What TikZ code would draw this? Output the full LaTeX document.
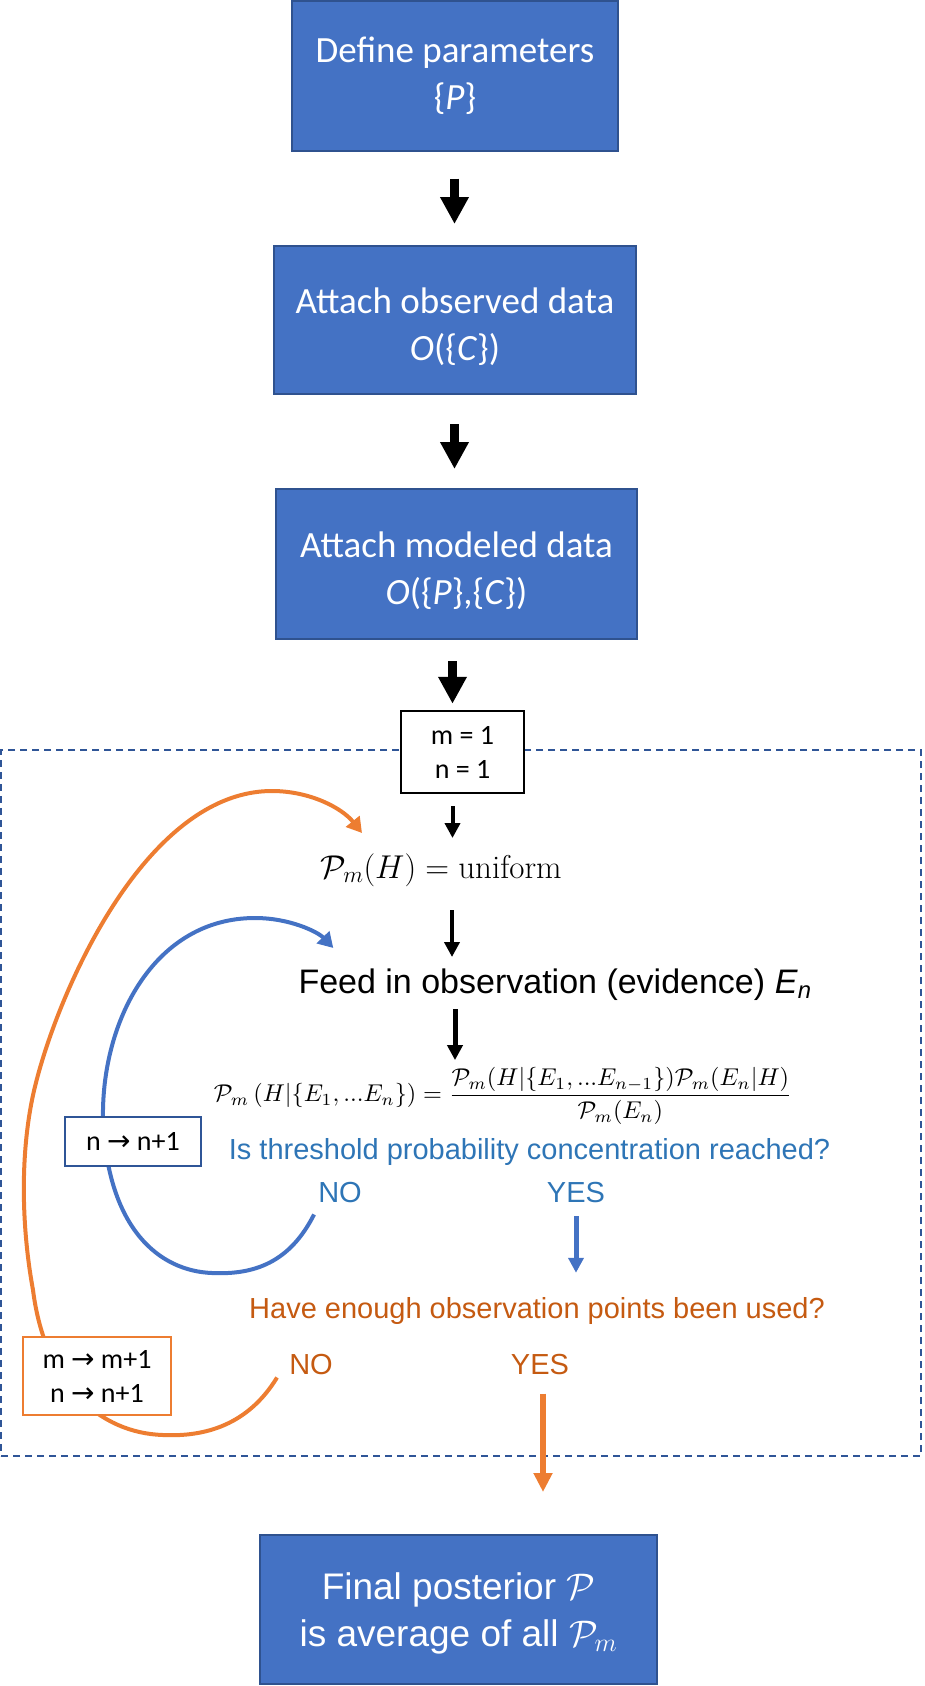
\RequirePackage{fix-cm}
\documentclass[tikz,border=0pt]{standalone}
\usepackage{fontspec}
\usepackage{graphicx}
\usetikzlibrary{arrows.meta}
\newfontfamily\calib{Carlito}
\newfontfamily\arial{Liberation Sans}
\newfontfamily\dejavu{DejaVu Sans}
\definecolor{boxblue}{HTML}{4472C4}
\definecolor{boxedge}{HTML}{2F528F}
\definecolor{frameblue}{HTML}{2F5597}
\definecolor{txtblue}{HTML}{2E75B6}
\definecolor{curveblue}{HTML}{4472C4}
\definecolor{orangeline}{HTML}{ED7D31}
\definecolor{txtorange}{HTML}{C55A11}
\tikzset{
  bluebox/.style={draw=boxedge, line width=2pt, fill=boxblue, text=white, align=center, inner sep=0pt},
  calibtext/.style={font=\calib\fontsize{37}{47}\selectfont},
  smallbox/.style={draw, line width=2pt, fill=white, align=center, inner sep=0pt, font=\calib\fontsize{28}{34}\selectfont},
  bigarrow/.style={line width=9pt, -{Triangle[width=27pt,length=27pt]}},
  smallarrow/.style={line width=4pt, -{Triangle[width=15pt,length=15pt]}},
  loopcurve/.style={line width=4pt, -{Triangle[width=17pt,length=15pt]}},
  plain/.style={inner sep=0pt, anchor=base},
  question/.style={plain, font=\arial\fontsize{29}{34}\selectfont},
}
\begin{document}
\begin{tikzpicture}[x=1pt,y=-1pt]
\useasboundingbox (0,0) rectangle (924,1686);
% dashed loop frame
\node[draw=frameblue, line width=2pt, dash pattern=on 7pt off 5pt, minimum width=920pt, minimum height=706pt, inner sep=0pt] (frame) at (461,1103) {};
% top boxes
\node[bluebox, calibtext, minimum width=326pt, minimum height=149pt] (b1) at (455,76) {Define parameters\\\{\textit{P}\}};
\node[bluebox, calibtext, minimum width=362pt, minimum height=148pt] (b2) at (455,320) {\rule{0pt}{40pt}Attach observed data\\\textit{O}(\{\textit{C}\})};
\node[bluebox, calibtext, minimum width=361pt, minimum height=150pt] (b3) at (456.5,564) {\rule{0pt}{39pt}Attach modeled data\\\textit{O}(\{\textit{P}\},\{\textit{C}\})};
\node[smallbox, draw=black, line width=2.5pt, minimum width=123pt, minimum height=82pt] (m1) at (462.5,752) {m = 1\\n = 1};
% loop contents
\node[plain, font=\fontsize{33}{40}\selectfont] (uni) at (441,878) {$\mathcal{P}_m(H)=\mathrm{uniform}$};
\node[plain, font=\arial\fontsize{34}{40}\selectfont] (feed) at (555,993) {Feed in observation (evidence) \textit{E}\textsubscript{\textit{n}}};
\node[inner sep=0pt] (bayes) at (503,1096) {\resizebox{578pt}{!}{$\displaystyle \mathcal{P}_m\left(H|\{E_1,...E_n\}\right)=\frac{\mathcal{P}_m(H|\{E_1,...E_{n-1}\})\mathcal{P}_m(E_n|H)}{\mathcal{P}_m(E_n)}$}};
\node[question, text=txtblue] (thr) at (529.5,1159) {Is threshold probability concentration reached?};
\node[question, text=txtblue] (noB) at (340,1202) {NO};
\node[question, text=txtblue] (yesB) at (576,1202) {YES};
\node[question, text=txtorange] (enough) at (537,1318) {Have enough observation points been used?};
\node[question, text=txtorange] (noO) at (311,1374) {NO};
\node[question, text=txtorange] (yesO) at (540,1374) {YES};
% final box
\node[bluebox, minimum width=397pt, minimum height=149pt, font=\arial\fontsize{37}{47}\selectfont] (final) at (458.5,1609.5) {\rule{0pt}{34pt}Final posterior $\mathcal{P}$\\is average of all $\mathcal{P}_m$};
% big black arrows
\path ([xshift=-0.5pt,yshift=-27pt]b1.south) coordinate (a1s) ([yshift=21pt]b2.north) coordinate (a1e);
\draw[bigarrow] (a1s) -- (a1s |- a1e);
\path ([xshift=-0.5pt,yshift=-29pt]b2.south) coordinate (a2s) ([yshift=19pt]b3.north) coordinate (a2e);
\draw[bigarrow] (a2s) -- (a2s |- a2e);
\path ([xshift=-4pt,yshift=-21pt]b3.south) coordinate (a3s) ([yshift=6pt]m1.north) coordinate (a3e);
\draw[bigarrow] (a3s) -- (a3s |- a3e);
% small black arrows
\path ([xshift=-10pt,yshift=-12pt]m1.south) coordinate (a4s) ([yshift=40pt]uni.base) coordinate (a4e);
\draw[smallarrow] (a4s) -- (a4s |- a4e);
\path ([xshift=11pt,yshift=-32pt]uni.base) coordinate (a5s) ([yshift=36pt]feed.base) coordinate (a5e);
\draw[smallarrow] (a5s) -- (a5s |- a5e);
\path ([xshift=-100pt,yshift=-16pt]feed.base) coordinate (a6s) ([yshift=7pt]bayes.north) coordinate (a6e);
\draw[smallarrow, line width=5pt] (a6s) -- (a6s |- a6e);
% decision arrows
\path ([yshift=-14pt]yesB.south) coordinate (a7s) ([yshift=24pt]enough.north) coordinate (a7e);
\draw[smallarrow, draw=curveblue, line width=5pt] (a7s) -- (a7s |- a7e);
\path ([xshift=3pt,yshift=-19pt]yesO.south) coordinate (a8s) ([yshift=42pt]final.north) coordinate (a8e);
\draw[draw=orangeline, line width=6pt, -{Triangle[width=18pt,length=19pt]}] (a8s) -- (a8s |- a8e);
% loop curves
\path ([xshift=-4pt,yshift=-12pt]noB.south west) coordinate (cBs) ([xshift=35pt,yshift=45pt]feed.base west) coordinate (cBe);
\draw[loopcurve, draw=curveblue] (cBs) .. controls (290,1262) and (255,1275) .. (212,1273)
  .. controls (160,1271) and (108,1230) .. (103,1120)
  .. controls (101,1020) and (155,918) .. (255,918)
  .. controls (290,918) and (318,932) .. (cBe);
\path ([xshift=-12pt,yshift=-3pt]noO.south west) coordinate (cOs) ([xshift=-79pt,yshift=45pt]uni.base) coordinate (cOe);
\draw[loopcurve, draw=orangeline] (cOs) .. controls (248,1425) and (205,1437) .. (163,1435)
  .. controls (100,1433) and (45,1385) .. (33,1290)
  .. controls (22,1230) and (20,1160) .. (32,1100)
  .. controls (50,1010) and (140,791) .. (272,791)
  .. controls (310,791) and (342,808) .. (cOe);
% counter boxes
\node[smallbox, draw=frameblue, minimum width=136pt, minimum height=49pt] (incN) at (133,1141.5) {n {\dejavu →} n+1};
\node[smallbox, draw=orangeline, minimum width=148pt, minimum height=78pt] (incM) at (97,1376) {m {\dejavu →} m+1\\n {\dejavu →} n+1};
\end{tikzpicture}
\end{document}
